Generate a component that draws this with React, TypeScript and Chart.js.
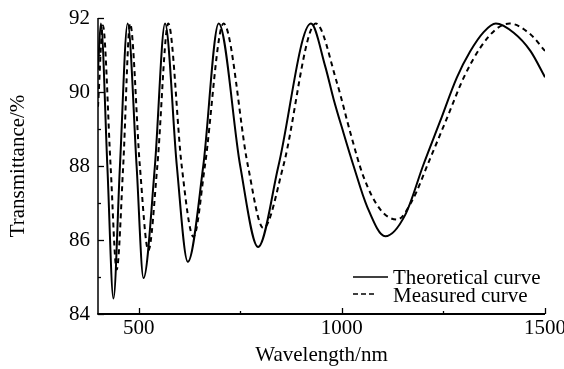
import React, { useEffect, useRef } from 'react';
import { Chart, registerables } from 'chart.js';

Chart.register(...registerables);

const theoreticalX = [400, 407, 423, 438, 454, 473, 495, 512, 540, 565, 594, 621, 659, 697, 750, 794, 844, 924, 959, 980, 1004, 1029, 1062, 1107, 1156, 1201, 1242, 1283, 1316, 1349, 1379, 1423, 1464, 1500];
const theoreticalY = [90.6, 91.85, 88, 84.42, 88, 91.85, 88, 84.97, 88, 91.85, 88, 85.41, 88, 91.85, 88, 85.81, 88, 91.85, 90.7, 89.8, 88.9, 88.0, 86.91, 86.1, 86.68, 88.04, 89.21, 90.39, 91.1, 91.62, 91.85, 91.6, 91.11, 90.4];

const measuredX = [400, 412, 431, 446, 462, 479, 503, 524, 546, 573, 606, 635, 663, 709, 769, 807, 856, 936, 988, 1021, 1053, 1095, 1136, 1172, 1218, 1259, 1300, 1341, 1382, 1413, 1464, 1500];
const measuredY = [89.6, 91.8, 88, 85.2, 88, 91.85, 88, 85.72, 88, 91.85, 88, 86.09, 88, 91.85, 88, 86.32, 88, 91.85, 90.25, 88.9, 87.72, 86.82, 86.55, 87.04, 88.22, 89.3, 90.39, 91.2, 91.72, 91.85, 91.56, 91.11];

const xTickValues = [500, 750, 1000, 1250, 1500];
const xTickLabels = ['500', '', '1000', '', '1500'];
const yTickValues = [84, 85, 86, 87, 88, 89, 90, 91, 92];
const yTickLabels = ['84', '', '86', '', '88', '', '90', '', '92'];

const seriesNames = ['Theoretical curve', 'Measured curve'];
const xTitle = 'Wavelength/nm';
const yTitle = 'Transmittance/%';

const FONT = '"Liberation Serif", "Times New Roman", serif';

const axesAndLegend = {
  id: 'axesAndLegend',
  afterDatasetsDraw(chart: any) {
    const { ctx, chartArea, scales } = chart;
    const xs = scales.x;
    const ys = scales.y;
    const { left, right, top, bottom } = chartArea;
    ctx.save();
    ctx.strokeStyle = '#000';
    ctx.lineCap = 'butt';
    // axes
    ctx.lineWidth = 1.5;
    ctx.beginPath();
    ctx.moveTo(left, top);
    ctx.lineTo(left, bottom);
    ctx.stroke();
    ctx.lineWidth = 2;
    ctx.beginPath();
    ctx.moveTo(left - 0.75, bottom);
    ctx.lineTo(right, bottom);
    ctx.stroke();
    // inward ticks
    ctx.lineWidth = 1.3;
    xTickValues.forEach((v, i) => {
      const px = Math.round(xs.getPixelForValue(v)) + 0.5;
      const len = xTickLabels[i] ? 6 : 3;
      ctx.beginPath();
      ctx.moveTo(px, bottom);
      ctx.lineTo(px, bottom - len);
      ctx.stroke();
    });
    yTickValues.forEach((v, i) => {
      const py = Math.round(ys.getPixelForValue(v)) + 0.5;
      const len = yTickLabels[i] ? 6 : 3;
      ctx.beginPath();
      ctx.moveTo(left, py);
      ctx.lineTo(left + len, py);
      ctx.stroke();
    });
    // legend
    const lx0 = right - 192;
    const lx1 = right - 157;
    const tx = right - 152;
    const r1 = bottom - 37;
    const r2 = bottom - 20;
    ctx.lineWidth = 1.5;
    ctx.setLineDash([]);
    ctx.beginPath();
    ctx.moveTo(lx0, r1);
    ctx.lineTo(lx1, r1);
    ctx.stroke();
    ctx.setLineDash([5, 3]);
    ctx.beginPath();
    ctx.moveTo(lx0, r2);
    ctx.lineTo(lx0 + 21, r2);
    ctx.stroke();
    ctx.setLineDash([]);
    ctx.fillStyle = '#000';
    ctx.font = `21px ${FONT}`;
    ctx.textAlign = 'left';
    ctx.textBaseline = 'alphabetic';
    ctx.fillText(seriesNames[0], tx, r1 + 7);
    ctx.fillText(seriesNames[1], tx, r2 + 8);
    ctx.restore();
  },
};

export default function App() {
  const ref = useRef<HTMLCanvasElement | null>(null);

  useEffect(() => {
    if (!ref.current) return;
    const tickFont = { family: FONT, size: 21 };
    const chart = new Chart(ref.current, {
      type: 'line',
      data: {
        datasets: [
          {
            label: seriesNames[0],
            data: theoreticalX.map((x, i) => ({ x, y: theoreticalY[i] })),
            borderColor: '#000',
            borderWidth: 2,
            pointRadius: 0,
            fill: false,
            cubicInterpolationMode: 'monotone',
          },
          {
            label: seriesNames[1],
            data: measuredX.map((x, i) => ({ x, y: measuredY[i] })),
            borderColor: '#000',
            borderWidth: 2,
            borderDash: [5, 4],
            pointRadius: 0,
            fill: false,
            cubicInterpolationMode: 'monotone',
          },
        ],
      },
      options: {
        animation: false,
        responsive: false,
        layout: { padding: { top: 18, right: 19, left: 0, bottom: 0 } },
        plugins: { legend: { display: false }, tooltip: { enabled: false } },
        scales: {
          x: {
            type: 'linear',
            min: 400,
            max: 1500,
            afterBuildTicks: (s: any) => {
              s.ticks = xTickValues.map((v) => ({ value: v }));
            },
            afterFit: (s: any) => {
              s.height = 55;
              s.paddingLeft = 0;
              s.paddingRight = 0;
            },
            ticks: {
              autoSkip: false,
              maxRotation: 0,
              padding: 2,
              color: '#000',
              font: tickFont,
              callback: (v: any) => {
                const i = xTickValues.indexOf(Number(v));
                return i >= 0 ? xTickLabels[i] : '';
              },
            },
            grid: { display: false, drawTicks: false },
            border: { display: false },
            title: {
              display: true,
              text: xTitle,
              color: '#000',
              font: tickFont,
              padding: { top: 0, bottom: 1 },
            },
          },
          y: {
            type: 'linear',
            min: 84,
            max: 92,
            afterBuildTicks: (s: any) => {
              s.ticks = yTickValues.map((v) => ({ value: v }));
            },
            afterFit: (s: any) => {
              s.width = 98;
              s.paddingTop = 0;
              s.paddingBottom = 0;
            },
            ticks: {
              autoSkip: false,
              padding: 8,
              color: '#000',
              font: tickFont,
              callback: (v: any) => {
                const i = yTickValues.indexOf(Number(v));
                return i >= 0 ? yTickLabels[i] : '';
              },
            },
            grid: { display: false, drawTicks: false },
            border: { display: false },
            title: {
              display: true,
              text: yTitle,
              color: '#000',
              font: tickFont,
              padding: { top: 6, bottom: 0 },
            },
          },
        },
      },
      plugins: [axesAndLegend],
    } as any);
    return () => chart.destroy();
  }, []);

  return (
    <div style={{ position: 'absolute', left: 0, top: 0, width: 564, height: 369, background: '#fff' }}>
      <canvas ref={ref} width={564} height={369} style={{ display: 'block' }} />
    </div>
  );
}
